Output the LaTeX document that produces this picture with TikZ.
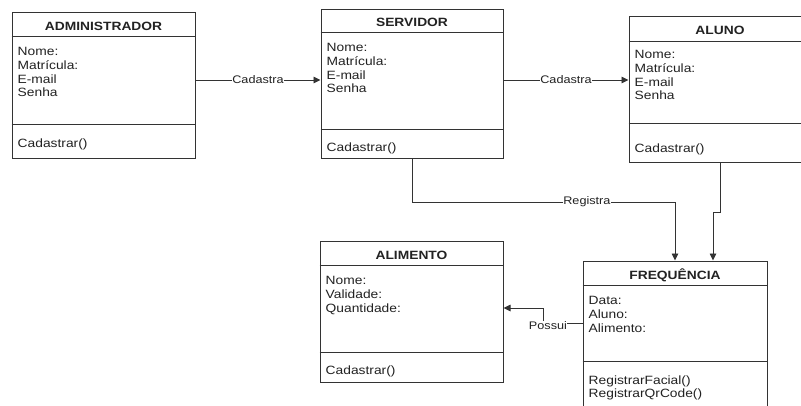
\documentclass[tikz,border=0pt]{standalone}
\usepackage{fontspec}
\setmainfont{Liberation Sans}[FakeStretch=1.15]
\usetikzlibrary{arrows.meta,calc}
\definecolor{ln}{HTML}{333333}
\definecolor{tx}{HTML}{222222}
\tikzset{
  cls/.style={draw=ln, line width=1pt, rectangle, inner sep=0pt},
  sep/.style={draw=ln, line width=0.9pt},
  ttl/.style={font=\fontsize{12}{14}\selectfont\bfseries, text=tx, inner sep=0pt, anchor=base},
  att/.style={font=\fontsize{12}{13.7}\selectfont, text=tx, inner sep=0pt, anchor=north west, align=left},
  con/.style={draw=ln, line width=0.9pt},
  arr/.style={con, -{Triangle[length=7pt,width=6.5pt]}},
  lbl/.style={font=\fontsize{11}{12}\selectfont, text=tx, fill=white, inner sep=0.5pt}
}
\begin{document}
\begin{tikzpicture}[x=1pt,y=-1pt]
\clip (0,0) rectangle (801,405);
\fill[white] (0,0) rectangle (801,405);
% class boxes
\node[cls, minimum width=183, minimum height=146] (adm) at (103.5,85) {};
\node[cls, minimum width=182, minimum height=149] (serv) at (412,83.5) {};
\node[cls, minimum width=182, minimum height=146] (aluno) at (720,89) {};
\node[cls, minimum width=183, minimum height=141] (alim) at (411.5,311.5) {};
\node[cls, minimum width=184, minimum height=151] (freq) at (675,336.5) {};
% separators
\draw[sep] ($(adm.north west)+(0,25)$) -- ($(adm.north east)+(0,25)$);
\draw[sep] ($(adm.south west)+(0,-34)$) -- ($(adm.south east)+(0,-34)$);
\draw[sep] ($(serv.north west)+(0,24)$) -- ($(serv.north east)+(0,24)$);
\draw[sep] ($(serv.south west)+(0,-29)$) -- ($(serv.south east)+(0,-29)$);
\draw[sep] ($(aluno.north west)+(0,26)$) -- ($(aluno.north east)+(0,26)$);
\draw[sep] ($(aluno.south west)+(0,-39)$) -- ($(aluno.south east)+(0,-39)$);
\draw[sep] ($(alim.north west)+(0,25)$) -- ($(alim.north east)+(0,25)$);
\draw[sep] ($(alim.south west)+(0,-30)$) -- ($(alim.south east)+(0,-30)$);
\draw[sep] ($(freq.north west)+(0,25)$) -- ($(freq.north east)+(0,25)$);
\draw[sep] ($(freq.north west)+(0,101)$) -- ($(freq.north east)+(0,101)$);
% texts
\node[ttl] (admT) at ($(adm.north)+(0,18.5)$) {ADMINISTRADOR};
\node[att] (admA) at ($(adm.north west)+(6,35.9)$) {Nome:\\Matrícula:\\E-mail\\Senha};
\node[att] (admM) at ($(adm.north west)+(6,126.7)$) {Cadastrar()};
\node[ttl] (servT) at ($(serv.north)+(0,17.5)$) {SERVIDOR};
\node[att] (servA) at ($(serv.north west)+(6,34.9)$) {Nome:\\Matrícula:\\E-mail\\Senha};
\node[att] (servM) at ($(serv.north west)+(6,133.7)$) {Cadastrar()};
\node[ttl] (alunoT) at ($(aluno.north)+(0,18.5)$) {ALUNO};
\node[att] (alunoA) at ($(aluno.north west)+(6,34.9)$) {Nome:\\Matrícula:\\E-mail\\Senha};
\node[att] (alunoM) at ($(aluno.north west)+(6,127.7)$) {Cadastrar()};
\node[ttl] (alimT) at ($(alim.north)+(0,18.5)$) {ALIMENTO};
\node[att] (alimA) at ($(alim.north west)+(6,35.9)$) {Nome:\\Validade:\\Quantidade:};
\node[att] (alimM) at ($(alim.north west)+(6,124.7)$) {Cadastrar()};
\node[ttl] (freqT) at ($(freq.north)+(0,18.5)$) {FREQUÊNCIA};
\node[att] (freqA) at ($(freq.north west)+(6,35.9)$) {Data:\\Aluno:\\Alimento:};
\node[att] (freqM) at ($(freq.north west)+(6,114.7)$) {RegistrarFacial()\\RegistrarQrCode()};
% helper coordinates
\coordinate (r1) at (0,80);
\coordinate (rg) at (0,202);
\coordinate (al) at (0,212);
\coordinate (fa) at ($(freq.north)+(38,0)$);
\coordinate (p1) at (0,323);
\coordinate (p2) at (543,0);
\coordinate (p3) at (0,308);
% connectors
\draw[arr] (adm.east |- r1) -- node[lbl]{Cadastra} (serv.west |- r1);
\draw[arr] (serv.east |- r1) -- node[lbl]{Cadastra} (aluno.west |- r1);
\draw[arr] (serv.south) -- (serv.south |- rg) -- node[lbl, pos=0.665]{Registra} (freq.north |- rg) -- (freq.north);
\draw[arr] (aluno.south) -- (aluno.south |- al) -| (fa);
\draw[arr] (freq.west |- p1) -- node[lbl, pos=0.875, yshift=-3pt]{Possui} (p2 |- p1) -- (p2 |- p3) -- (alim.east |- p3);
\end{tikzpicture}
\end{document}
